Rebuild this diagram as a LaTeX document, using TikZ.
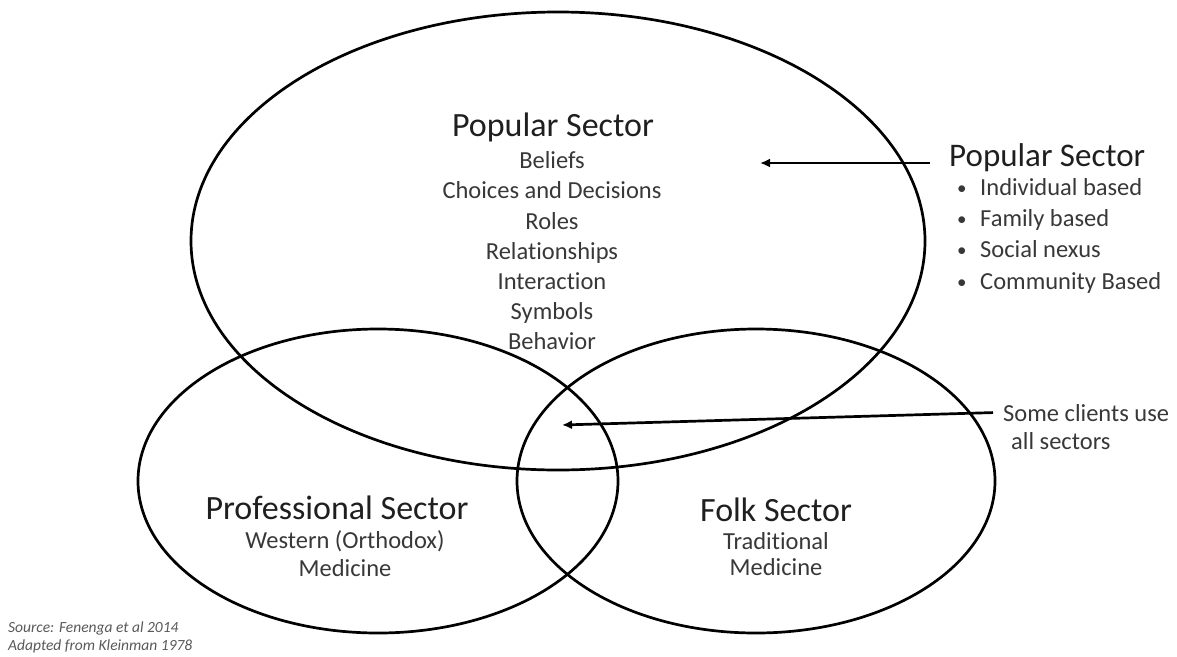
\documentclass[tikz,border=0pt]{standalone}
\usepackage{fontspec}
\setmainfont{Carlito}[Ligatures={NoCommon}]
\usetikzlibrary{arrows.meta,calc}
\newcommand{\listdot}{\makebox[23pt][l]{\fontsize{19}{20}\selectfont\raisebox{1pt}{•}}}
\begin{document}
\begin{tikzpicture}[x=1pt,y=-1pt,
  ring/.style={draw=black,line width=2.7pt},
  pointer/.style={draw=black,line width=2.7pt,-{Latex[length=10pt,width=9pt]}},
  heading/.style={font=\fontsize{34}{40}\selectfont,text=black!88,inner sep=0pt,anchor=base},
  entry/.style={font=\fontsize{24.5}{30}\selectfont,text=black!78,inner sep=0pt,anchor=base},
  sidehead/.style={font=\fontsize{33}{40}\selectfont,text=black!88,inner sep=0pt,anchor=base west},
  sideentry/.style={font=\fontsize{24.5}{30}\selectfont,text=black!78,inner sep=0pt,anchor=base west},
  note/.style={font=\fontsize{15.5}{17}\selectfont\itshape,text=black!65,inner sep=0pt,anchor=base west},
  ]
\useasboundingbox (0,0) rectangle (1177,656);

% the three sectors
\draw[ring] (558,241) ellipse [x radius=367, y radius=229];
\draw[ring] (378,481) ellipse [x radius=240, y radius=152];
\draw[ring] (756,481) ellipse [x radius=239, y radius=152];

% popular sector contents
\node[heading] (poptitle) at (553,136) {Popular Sector};
\node[entry] (pop1) at (552,168) {Beliefs};
\node[entry] (pop2) at (552,198) {Choices and Decisions};
\node[entry] (pop3) at (552,229) {Roles};
\node[entry] (pop4) at (552,259) {Relationships};
\node[entry] (pop5) at (552,289) {Interaction};
\node[entry] (pop6) at (552,319) {Symbols};
\node[entry] (pop7) at (552,349) {Behavior};

% professional sector contents
\node[heading] (proftitle) at (337,519) {Professional Sector};
\node[entry] (prof1) at (345,548) {Western (Orthodox)};
\node[entry] (prof2) at (345,576) {Medicine};

% folk sector contents
\node[heading] (folktitle) at (776,521) {Folk Sector};
\node[entry] (folk1) at (776,549) {Traditional};
\node[entry] (folk2) at (776,575) {Medicine};

% side legend
\node[sidehead] (sidetitle) at (949,166) {Popular Sector};
\node[sideentry] (side1) at (957,195) {\listdot Individual based};
\node[sideentry] (side2) at (957,226) {\listdot Family based};
\node[sideentry] (side3) at (957,257) {\listdot Social nexus};
\node[sideentry] (side4) at (957,289) {\listdot Community Based};

\node[sideentry] (clients1) at (1003,421) {Some clients use};
\node[sideentry] (clients2) at (1011,449) {all sectors};

% source note
\node[note] (source1) at (8,632) {Source: Fenenga et al 2014};
\node[note] (source2) at (8,650) {Adapted from Kleinman 1978};

% pointers
\coordinate (popin) at (760,163);
\coordinate (allin) at (562,425);
\draw[pointer] ([xshift=-19pt]popin -| sidetitle.west) -- (popin);
\draw[pointer] ([xshift=-10pt]clients1.west) -- (allin);
\end{tikzpicture}
\end{document}
